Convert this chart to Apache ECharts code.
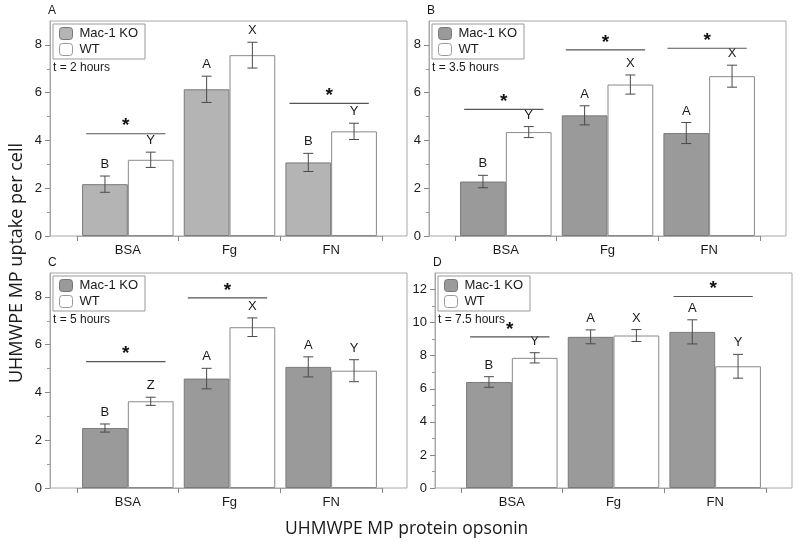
<!DOCTYPE html>
<html><head><meta charset="utf-8">
<script src="https://cdn.jsdelivr.net/npm/echarts@6/dist/echarts.min.js"></script>
<style>html,body{margin:0;padding:0;background:#fff}#c{width:800px;height:548px}</style>
</head><body><div id="c"></div>
<script>
const categories = ['BSA', 'Fg', 'FN'];
const seriesNames = ['Mac-1 KO', 'WT'];
const panelLetters = ['A', 'B', 'C', 'D'];
const timeLabels = ['t = 2 hours', 't = 3.5 hours', 't = 5 hours', 't = 7.5 hours'];
const yMaxes = [9, 9, 9, 13];
const yMajorTicks = [[0, 2, 4, 6, 8], [0, 2, 4, 6, 8], [0, 2, 4, 6, 8], [0, 2, 4, 6, 8, 10, 12]];
const yMinorTicks = [[1, 3, 5, 7], [1, 3, 5, 7], [1, 3, 5, 7], [1, 3, 5, 7, 9, 11]];

const koA = [2.17, 6.14, 3.08], koErrA = [0.34, 0.55, 0.38];
const wtA = [3.19, 7.57, 4.38], wtErrA = [0.32, 0.54, 0.34];
const koLetA = ['B', 'A', 'B'], wtLetA = ['Y', 'X', 'Y'];
const sigCatA = [0, 2], sigYA = [4.28, 5.55];

const koB = [2.28, 5.05, 4.31], koErrB = [0.26, 0.40, 0.44];
const wtB = [4.35, 6.34, 6.69], wtErrB = [0.23, 0.40, 0.46];
const koLetB = ['B', 'A', 'A'], wtLetB = ['Y', 'X', 'X'];
const sigCatB = [0, 1, 2], sigYB = [5.30, 7.79, 7.86];

const koC = [2.51, 4.58, 5.07], koErrC = [0.17, 0.43, 0.42];
const wtC = [3.63, 6.73, 4.91], wtErrC = [0.17, 0.39, 0.46];
const koLetC = ['B', 'A', 'A'], wtLetC = ['Z', 'X', 'Y'];
const sigCatC = [0, 1], sigYC = [5.29, 7.96];

const koD = [6.41, 9.14, 9.44], koErrD = [0.32, 0.42, 0.73];
const wtD = [7.87, 9.22, 7.36], wtErrD = [0.31, 0.36, 0.72];
const koLetD = ['B', 'A', 'A'], wtLetD = ['Y', 'X', 'Y'];
const sigCatD = [0, 2], sigYD = [9.14, 11.58];

const xTitle = 'UHMWPE MP protein opsonin';
const yTitle = 'UHMWPE MP uptake per cell';

const panelsData = [
  {ko: koA, koErr: koErrA, wt: wtA, wtErr: wtErrA, koLet: koLetA, wtLet: wtLetA, sigCat: sigCatA, sigY: sigYA},
  {ko: koB, koErr: koErrB, wt: wtB, wtErr: wtErrB, koLet: koLetB, wtLet: wtLetB, sigCat: sigCatB, sigY: sigYB},
  {ko: koC, koErr: koErrC, wt: wtC, wtErr: wtErrC, koLet: koLetC, wtLet: wtLetC, sigCat: sigCatC, sigY: sigYC},
  {ko: koD, koErr: koErrD, wt: wtD, wtErr: wtErrD, koLet: koLetD, wtLet: wtLetD, sigCat: sigCatD, sigY: sigYD}
];

// layout (pixels)
const layout = [
  {fl: 50, ft: 21, dl: 77},
  {fl: 429, ft: 21, dl: 455},
  {fl: 50, ft: 273, dl: 77},
  {fl: 435, ft: 273, dl: 461}
];
const FW = 357, FH = 215, DW = 305;
const koColors = ['#b4b4b4', '#9a9a9a', '#9a9a9a', '#9a9a9a'];
const FONT = '"Liberation Sans", Arial, sans-serif';
const TXT = '#1a1a1a';
const AX = '#a8a8a8';

const grid = [], xAxis = [], yAxis = [], series = [], legend = [], title = [];

layout.forEach((L, p) => {
  const d = panelsData[p];
  const gF = grid.length;
  grid.push({left: L.fl, top: L.ft, width: FW, height: FH, show: true, borderColor: AX, borderWidth: 1, backgroundColor: 'transparent', z: 0});
  const gD = grid.length;
  grid.push({left: L.dl, top: L.ft, width: DW, height: FH});
  xAxis.push({gridIndex: gF, type: 'value', show: false, min: 0, max: 1});
  const xD = xAxis.length;
  xAxis.push({gridIndex: gD, type: 'category', data: categories,
    axisLine: {show: true, lineStyle: {color: AX}},
    axisTick: {show: true, length: 5, inside: false, lineStyle: {color: '#888'}},
    axisLabel: {fontFamily: FONT, fontSize: 13, color: TXT, margin: 8}});
  yAxis.push({gridIndex: gF, type: 'value', show: false, min: 0, max: 1});
  const yD = yAxis.length;
  yAxis.push({gridIndex: gD, type: 'value', position: 'left', min: 0, max: yMaxes[p], offset: L.dl - L.fl,
    splitLine: {show: false},
    axisLine: {show: true, lineStyle: {color: AX}},
    axisTick: {show: true, length: 5, customValues: yMajorTicks[p], lineStyle: {color: '#888'}},
    axisLabel: {fontFamily: FONT, fontSize: 13, color: TXT, margin: 8, customValues: yMajorTicks[p]}});
  yAxis.push({gridIndex: gD, type: 'value', position: 'left', min: 0, max: yMaxes[p], offset: L.dl - L.fl,
    splitLine: {show: false}, axisLine: {show: false},
    axisTick: {show: true, length: 3, customValues: yMinorTicks[p], lineStyle: {color: '#999'}},
    axisLabel: {show: false}});

  series.push({type: 'bar', name: seriesNames[0], xAxisIndex: xD, yAxisIndex: yD, data: d.ko,
    barWidth: '45%', barGap: '0%', itemStyle: {color: koColors[p], borderColor: '#7a7a7a', borderWidth: 1}, z: 2});
  series.push({type: 'bar', name: seriesNames[1], xAxisIndex: xD, yAxisIndex: yD, data: d.wt,
    barWidth: '45%', barGap: '0%', itemStyle: {color: '#ffffff', borderColor: '#8a8a8a', borderWidth: 1}, z: 2});

  [[d.ko, d.koErr, d.koLet, -1], [d.wt, d.wtErr, d.wtLet, 1]].forEach(([m, e, lets, side]) => {
    series.push({type: 'custom', xAxisIndex: xD, yAxisIndex: yD, z: 5, silent: true,
      encode: {x: 0, y: [1, 2]},
      data: m.map((v, i) => [i, v - e[i], v + e[i]]),
      renderItem: function (params, api) {
        const c = api.value(0);
        const bw = api.size([1, 0])[0];
        const off = side * bw * 0.225;
        const lo = api.coord([c, api.value(1)]);
        const hi = api.coord([c, api.value(2)]);
        const x = lo[0] + off;
        const cap = 5;
        const st = {stroke: '#4a4a4a', lineWidth: 1};
        return {type: 'group', children: [
          {type: 'line', shape: {x1: x, y1: lo[1], x2: x, y2: hi[1]}, style: st},
          {type: 'line', shape: {x1: x - cap, y1: lo[1], x2: x + cap, y2: lo[1]}, style: st},
          {type: 'line', shape: {x1: x - cap, y1: hi[1], x2: x + cap, y2: hi[1]}, style: st},
          {type: 'text', x: x, y: hi[1] - 5, style: {text: lets[params.dataIndex], fill: TXT,
            font: '13px ' + FONT, align: 'center', verticalAlign: 'bottom'}}
        ]};
      }});
  });

  series.push({type: 'custom', xAxisIndex: xD, yAxisIndex: yD, z: 5, silent: true,
    encode: {x: 0, y: 1},
    data: d.sigCat.map((c, i) => [c, d.sigY[i]]),
    renderItem: function (params, api) {
      const bw = api.size([1, 0])[0];
      const pt = api.coord([api.value(0), api.value(1)]);
      const x1 = pt[0] - bw * 0.41, x2 = pt[0] + bw * 0.37;
      return {type: 'group', children: [
        {type: 'line', shape: {x1: x1, y1: pt[1], x2: x2, y2: pt[1]}, style: {stroke: '#555', lineWidth: 1.2}},
        {type: 'text', x: (x1 + x2) / 2, y: pt[1] + 2, style: {text: '*', fill: '#111',
          font: 'bold 19px ' + FONT, align: 'center', verticalAlign: 'bottom'}}
      ]};
    }});

  legend.push({orient: 'vertical', left: L.fl + 3, top: L.ft + 3, itemWidth: 13, itemHeight: 12, itemGap: 3,
    padding: [3, 7, 3, 6], borderColor: '#999', borderWidth: 1, backgroundColor: '#fff',
    selectedMode: false, icon: 'roundRect',
    textStyle: {fontFamily: FONT, fontSize: 13, color: TXT, padding: [0, 0, 0, 2]},
    data: [
      {name: seriesNames[0], itemStyle: {color: koColors[p], borderColor: '#777', borderWidth: 1}},
      {name: seriesNames[1], itemStyle: {color: '#fff', borderColor: '#999', borderWidth: 1}}
    ]});

  title.push({text: panelLetters[p], left: L.fl - 2, top: L.ft - 16, padding: 0,
    textStyle: {fontFamily: FONT, fontSize: 12, fontWeight: 'normal', color: TXT}});
  title.push({text: timeLabels[p], left: L.fl + 3, top: L.ft + 41, padding: 0,
    textStyle: {fontFamily: FONT, fontSize: 12, fontWeight: 'normal', color: TXT}});
});

title.push({text: xTitle, left: 285, top: 520, padding: 0,
  textStyle: {fontFamily: '"Open Sans", sans-serif', fontSize: 17.5, fontWeight: 'normal', color: TXT}});

const chart = echarts.init(document.getElementById('c'), null, {renderer: 'canvas'});
chart.setOption({
  backgroundColor: '#fff',
  animation: false,
  title, grid, xAxis, yAxis, series, legend,
  graphic: [{type: 'text', x: 17, y: 263, rotation: Math.PI / 2,
    style: {text: yTitle, fill: TXT, font: '18px "Open Sans", sans-serif', align: 'center', verticalAlign: 'middle'}}]
});
</script></body></html>
